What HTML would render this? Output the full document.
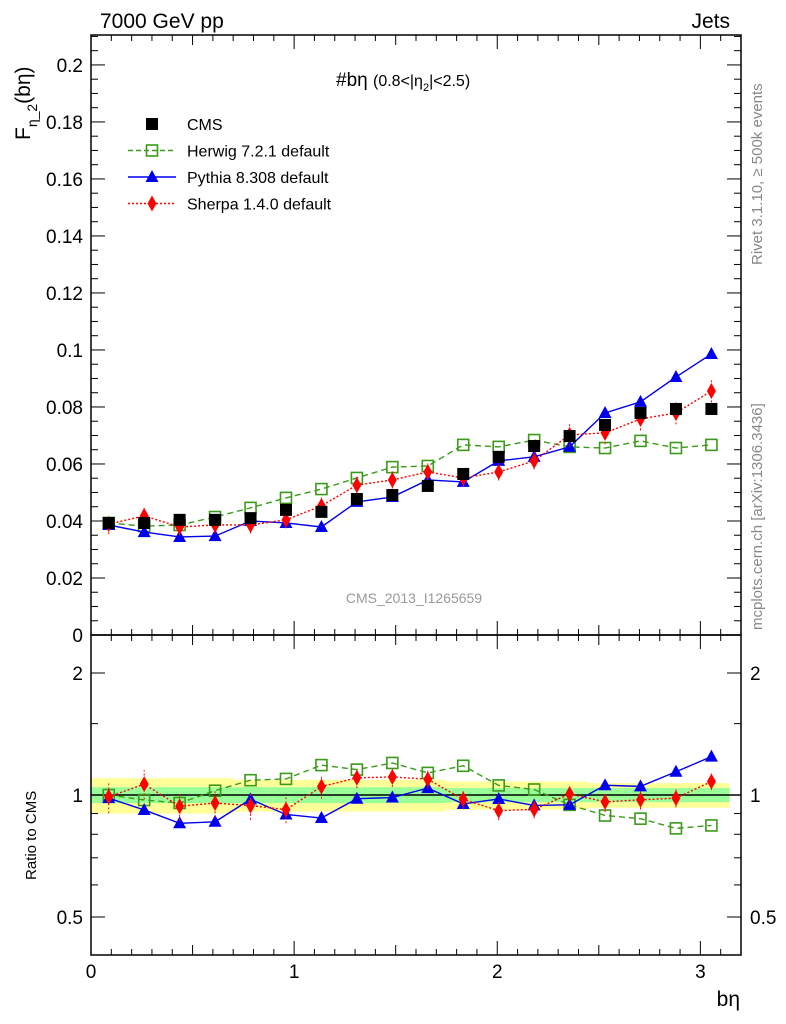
<!DOCTYPE html>
<html><head><meta charset="utf-8"><style>
body{margin:0;background:#fff;}
svg{display:block;font-family:"Liberation Sans",sans-serif;}
</style></head><body>
<svg id="c" width="786" height="1024" xmlns="http://www.w3.org/2000/svg">
<text x="100" y="28" font-size="21">7000 GeV pp</text>
<text x="730" y="28" font-size="21" text-anchor="end">Jets</text>
<text x="336" y="86" font-size="19">#bη <tspan font-size="16">(0.8&lt;|η</tspan><tspan font-size="11" dy="5">2</tspan><tspan font-size="16" dy="-5">|&lt;2.5)</tspan></text>
<text x="414" y="603" font-size="14" fill="#999" text-anchor="middle">CMS_2013_I1265659</text>
<text transform="translate(762,265) rotate(-90)" font-size="15" fill="#888">Rivet 3.1.10, ≥ 500k events</text>
<text transform="translate(762,630) rotate(-90)" font-size="15" fill="#888">mcplots.cern.ch [arXiv:1306.3436]</text>
<text transform="translate(30,140) rotate(-90)" font-size="21">F<tspan font-size="14" dy="7">η_2</tspan><tspan dy="-7">(bη)</tspan></text>
<text transform="translate(36,880) rotate(-90)" font-size="15">Ratio to CMS</text>
<text x="740" y="1006" font-size="21" text-anchor="end">bη</text>
<g id="g"></g>
</svg>
<script>
const cms=[0.0393,0.0393,0.0404,0.0404,0.041,0.0439,0.0432,0.0477,0.0491,0.0523,0.0565,0.0625,0.0663,0.0698,0.0737,0.0779,0.0793,0.0793];
const herwig=[0.0393,0.0382,0.0386,0.0414,0.0446,0.0481,0.0512,0.0551,0.0589,0.0593,0.0667,0.066,0.0684,0.066,0.0656,0.0681,0.0656,0.0667];
const pythia=[0.0386,0.0361,0.0344,0.0347,0.04,0.0393,0.0379,0.0467,0.0484,0.0544,0.0537,0.0611,0.0625,0.066,0.0779,0.0818,0.0905,0.0986];
const sherpa=[0.0389,0.0418,0.0379,0.0386,0.0386,0.0404,0.0453,0.0526,0.0544,0.0572,0.0551,0.0572,0.0611,0.0702,0.0709,0.0758,0.0779,0.0856];
const sherpaErr=[0.0035,0.0035,0.003,0.003,0.003,0.003,0.003,0.003,0.003,0.003,0.003,0.003,0.003,0.004,0.004,0.004,0.004,0.004];
const bandOuter=[0.1,0.1,0.1,0.1,0.09,0.09,0.09,0.09,0.09,0.09,0.08,0.08,0.08,0.08,0.07,0.07,0.07,0.07];
const bandInner=[0.045,0.045,0.045,0.045,0.045,0.045,0.045,0.045,0.045,0.045,0.04,0.04,0.04,0.04,0.04,0.04,0.04,0.04];
const xTicks=[0,1,2,3];
const yTicks=[0,0.02,0.04,0.06,0.08,0.1,0.12,0.14,0.16,0.18,0.2];
const rTicks=[0.5,1,2];
const NB=18, W=Math.PI/NB;
const X0=91,X1=741,XMAX=3.2, Y0=635,Y1=35,YMAX=0.2105, R0=955,R1=635;
const sx=v=>X0+(X1-X0)*v/XMAX;
const sy=v=>Y0-(Y0-Y1)*v/YMAX;
const sr=v=>795-122*Math.log2(v);
const g=document.getElementById('g');
const NS='http://www.w3.org/2000/svg';
function el(t,a,p){const e=document.createElementNS(NS,t);for(const k in a)e.setAttribute(k,a[k]);(p||g).appendChild(e);return e;}
// bands
for(let i=0;i<NB;i++){
 const xa=sx(i*W),xb=sx((i+1)*W);
 const b=el('rect',{x:xa,y:sr(1+bandOuter[i]),width:xb-xa+0.5,height:sr(1-bandOuter[i])-sr(1+bandOuter[i]),fill:'#ffff99'});
 
 
 const c=el('rect',{x:xa,y:sr(1+bandInner[i]),width:xb-xa+0.5,height:sr(1-bandInner[i])-sr(1+bandInner[i]),fill:'#99ff99'});
 
 
}
el('line',{x1:X0,x2:X1,y1:sr(1),y2:sr(1),stroke:'#000','stroke-width':1.5});
// frames
el('rect',{x:X0,y:Y1,width:X1-X0,height:Y0-Y1,fill:'none',stroke:'#000','stroke-width':1.5});
el('rect',{x:X0,y:R1,width:X1-X0,height:R0-R1,fill:'none',stroke:'#000','stroke-width':1.5});
// x ticks
for(let v=0;v<=3.2001;v+=0.1){
 const m=Math.abs(v-Math.round(v))<1e-6, h=Math.abs(v*2-Math.round(v*2))<1e-6;
 const L=m?14:(h?10:6);
 for(const [yb,ys] of [[Y0,-1],[Y1,1],[R0,-1],[R1,1]]) el('line',{x1:sx(v),x2:sx(v),y1:yb,y2:yb+ys*L,stroke:'#000'});
}
xTicks.forEach(v=>{const t=el('text',{x:sx(v),y:978,'font-size':19,'text-anchor':'middle'});t.textContent=v;
 
 });
// y ticks
for(let v=0;v<=0.2101;v+=0.005){
 const m=Math.abs(v/0.02-Math.round(v/0.02))<1e-6, L=m?14:7;
 el('line',{x1:X0,x2:X0+L,y1:sy(v),y2:sy(v),stroke:'#000'});
 el('line',{x1:X1,x2:X1-L,y1:sy(v),y2:sy(v),stroke:'#000'});
}
yTicks.forEach(v=>{const t=el('text',{x:83,y:sy(v)+7,'font-size':19,'text-anchor':'end'});t.textContent=v===0?'0':String(+v.toFixed(2));
 
 });
// ratio ticks
[0.5,0.6,0.7,0.8,0.9,1,1.5,2].forEach(v=>{const L=rTicks.includes(v)?14:7;
 el('line',{x1:X0,x2:X0+L,y1:sr(v),y2:sr(v),stroke:'#000'});el('line',{x1:X1,x2:X1-L,y1:sr(v),y2:sr(v),stroke:'#000'});});
rTicks.forEach(v=>{for(const [x,a] of [[83,'end'],[750,'start']]){const t=el('text',{x:x,y:sr(v)+7,'font-size':19,'text-anchor':a});t.textContent=v;
 
 }});
// markers
function marker(type,x,y,col,name){
 let m;
 if(type==='sq') m=el('rect',{x:x-6,y:y-6,width:12,height:12,fill:'#000'});
 else if(type==='osq') m=el('rect',{x:x-5.5,y:y-5.5,width:11,height:11,fill:'none',stroke:col,'stroke-width':1.6});
 else if(type==='tri') m=el('polygon',{points:`${x},${y-7} ${x-6.5},${y+5} ${x+6.5},${y+5}`,fill:col});
 else m=el('polygon',{points:`${x},${y-8} ${x-4.5},${y} ${x},${y+8} ${x+4.5},${y}`,fill:col});
 
 
}
function series(vals,col,dash,type,name,ratio,err){
 const f=ratio?(i=>sr(vals[i]/cms[i])):(i=>sy(vals[i]));
 let d='';vals.forEach((v,i)=>{d+=(i?'L':'M')+sx((i+.5)*W)+','+f(i);});
 const p=el('path',{d:d,fill:'none',stroke:col,'stroke-width':1.4,'stroke-dasharray':dash});
 
 
 vals.forEach((v,i)=>{
  if(err){const e=ratio?err[i]/cms[i]:err[i];const lo=ratio?sr(vals[i]/cms[i]-e):sy(v-e),hi=ratio?sr(vals[i]/cms[i]+e):sy(v+e);
   el('line',{x1:sx((i+.5)*W),x2:sx((i+.5)*W),y1:lo,y2:hi,stroke:col,'stroke-dasharray':'2,2'});}
  marker(type,sx((i+.5)*W),f(i),col,name+'-point');});
}
series(herwig,'#3a9a1a','6,4','osq','herwig',false);
series(pythia,'#0000ee','','tri','pythia',false);
series(sherpa,'#ff0000','2,2','dia','sherpa',false,sherpaErr);
cms.forEach((v,i)=>marker('sq',sx((i+.5)*W),sy(v),'#000','cms-point'));
series(herwig,'#3a9a1a','6,4','osq','herwig-ratio',true);
series(pythia,'#0000ee','','tri','pythia-ratio',true);
series(sherpa,'#ff0000','2,2','dia','sherpa-ratio',true,sherpaErr);
// legend
const leg=[['CMS','sq','#000',''],['Herwig 7.2.1 default','osq','#3a9a1a','5,3'],['Pythia 8.308 default','tri','#0000ee',''],['Sherpa 1.4.0 default','dia','#ff0000','2,2']];
leg.forEach((l,i)=>{const y=124+i*26.5;
 if(i>0){const ln=el('line',{x1:128,x2:176,y1:y,y2:y,stroke:l[2],'stroke-width':1.4,'stroke-dasharray':l[3]});}
 marker(l[1],152,y,l[2],'legend-marker');
 const t=el('text',{x:187,y:y+6,'font-size':16});t.textContent=l[0];
 
 });
</script>
</body></html>
